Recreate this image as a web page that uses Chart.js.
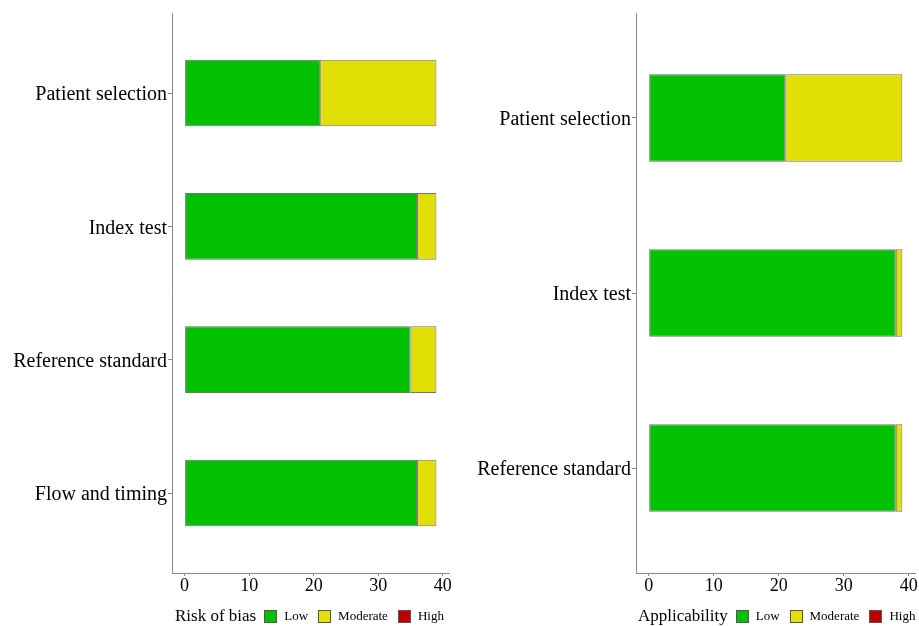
<!DOCTYPE html>
<html>
<head>
<meta charset="utf-8">
<script src="https://cdn.jsdelivr.net/npm/chart.js@4.4.1/dist/chart.umd.min.js"></script>
<style>
  html, body { margin: 0; padding: 0; background: #fff; }
  body { width: 919px; height: 626px; position: relative; overflow: hidden; font-family: 'Liberation Serif', 'Times New Roman', serif; }
  canvas { position: absolute; top: 0; }
  #c1 { left: 0; }
  #c2 { left: 460px; }
  .legend { position: absolute; top: 606px; display: flex; align-items: center; color: #000; white-space: nowrap; }
  .legend .ttl { font-size: 17px; margin-right: 8px; }
  .legend .box { width: 11px; height: 11px; border: 1px solid #555; margin-right: 7px; }
  .legend .lab { font-size: 13px; margin-right: 10px; }
</style>
</head>
<body>
<canvas id="c1" width="460" height="626"></canvas>
<canvas id="c2" width="459" height="626"></canvas>
<div class="legend" id="leg1" style="left:175px;"></div>
<div class="legend" id="leg2" style="left:638px;"></div>
<script>
// ---- data ----
const robCategories = ["Patient selection", "Index test", "Reference standard", "Flow and timing"];
const robLow = [21, 36, 35, 36];
const robModerate = [18, 3, 4, 3];
const robHigh = [0, 0, 0, 0];

const appCategories = ["Patient selection", "Index test", "Reference standard"];
const appLow = [21, 38, 38];
const appModerate = [18, 1, 1];
const appHigh = [0, 0, 0];

const xTicks = [0, 10, 20, 30, 40];
const judgementLabels = ["Low", "Moderate", "High"];
const judgementColors = ["#02C100", "#E2DF07", "#BF0000"];
const legendTitles = ["Risk of bias", "Applicability"];

const FONT = "'Liberation Serif', 'Times New Roman', serif";

function makeChart(canvasId, categories, series, yAxisWidth, padRight) {
  const datasets = series.map((vals, s) => ({
    label: judgementLabels[s],
    data: vals.map((v, i) => ({ x: v, y: i + 1 })),
    backgroundColor: judgementColors[s],
    borderColor: 'rgba(40,40,40,0.65)',
    borderWidth: s === 2 ? 0 : 1,
    borderSkipped: false,
    barPercentage: 0.5,
    categoryPercentage: 1.0
  }));
  return new Chart(document.getElementById(canvasId), {
    type: 'bar',
    data: { datasets },
    options: {
      indexAxis: 'y',
      responsive: false,
      animation: false,
      devicePixelRatio: 1,
      layout: { padding: { top: 12, right: padRight, left: 0, bottom: 0 } },
      plugins: { legend: { display: false }, tooltip: { enabled: false } },
      scales: {
        x: {
          type: 'linear',
          stacked: true,
          min: -1.95,
          max: 40.95,
          afterBuildTicks: (axis) => { axis.ticks = xTicks.map(v => ({ value: v })); },
          afterFit: (axis) => { axis.height = 626 - 573; },
          grid: { display: true, drawOnChartArea: false, drawTicks: true, tickLength: 3, tickColor: '#8a8a8a', tickWidth: 1 },
          border: { display: true, color: '#8a8a8a', width: 1 },
          ticks: { font: { family: FONT, size: 18 }, color: '#000', padding: -1, maxRotation: 0 }
        },
        y: {
          type: 'linear',
          stacked: true,
          reverse: true,
          offset: false,
          min: 0.4,
          max: categories.length + 0.6,
          afterBuildTicks: (axis) => { axis.ticks = categories.map((c, i) => ({ value: i + 1 })); },
          afterFit: (axis) => { axis.width = yAxisWidth; },
          grid: { display: true, offset: false, drawOnChartArea: false, drawTicks: true, tickLength: 4, tickColor: '#8a8a8a', tickWidth: 1 },
          border: { display: true, color: '#8a8a8a', width: 1 },
          ticks: {
            font: { family: FONT, size: 20 },
            color: '#000',
            padding: 1,
            labelOffset: 2,
            callback: (v) => categories[Math.round(v) - 1] || ''
          }
        }
      }
    }
  });
}

makeChart('c1', robCategories, [robLow, robModerate, robHigh], 172, 11);
makeChart('c2', appCategories, [appLow, appModerate, appHigh], 176, 4);

function makeLegend(id, title) {
  const el = document.getElementById(id);
  const t = document.createElement('span');
  t.className = 'ttl';
  t.textContent = title;
  el.appendChild(t);
  judgementLabels.forEach((lab, i) => {
    const b = document.createElement('span');
    b.className = 'box';
    b.style.background = judgementColors[i];
    el.appendChild(b);
    const l = document.createElement('span');
    l.className = 'lab';
    l.textContent = lab;
    el.appendChild(l);
  });
}
makeLegend('leg1', legendTitles[0]);
makeLegend('leg2', legendTitles[1]);
</script>
</body>
</html>
